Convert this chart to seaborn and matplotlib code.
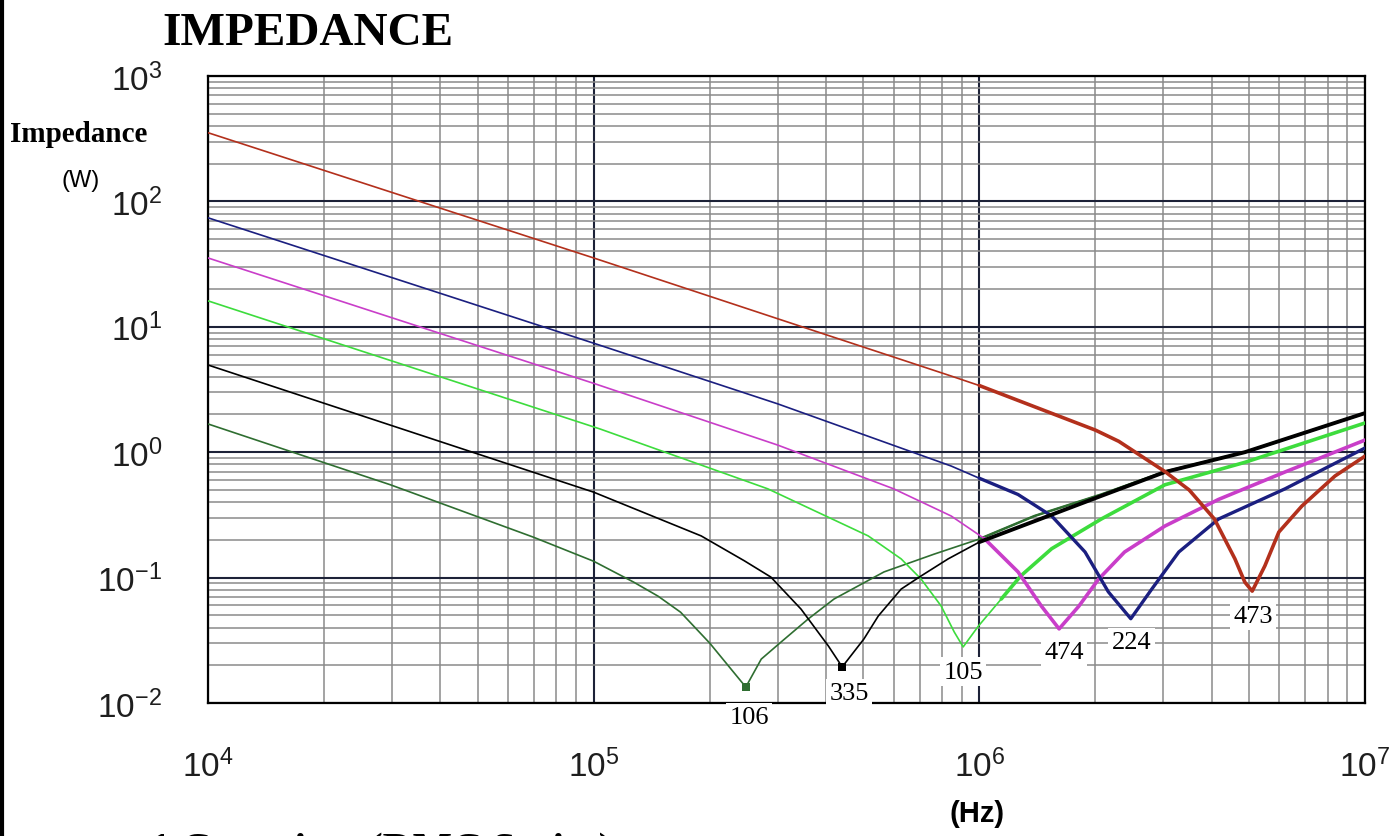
import numpy as np
import pandas as pd
import matplotlib
matplotlib.use("Agg")
import matplotlib.pyplot as plt
import seaborn as sns
from matplotlib.ticker import LogLocator, NullFormatter
from matplotlib.lines import Line2D

# ---------------- data ----------------
labels = ["106", "335", "105", "474", "224", "473"]

f_106 = [1e4, 2.97e4, 6.98e4, 1e5, 1.27e5, 1.47e5, 1.68e5, 2.0e5, 2.48e5, 2.72e5, 3.06e5,
         3.6e5, 4.2e5, 5.66e5, 7.64e5, 1e6, 1.39e6, 2.07e6, 3.03e6, 4.88e6, 1e7]
z_106 = [1.68, 0.55, 0.21, 0.135, 0.092, 0.071, 0.053, 0.030, 0.0134, 0.0224, 0.0306,
         0.0468, 0.0675, 0.111, 0.154, 0.203, 0.31, 0.46, 0.70, 1.0, 2.05]

f_335 = [1e4, 1e5, 1.9e5, 2.46e5, 2.88e5, 3.45e5, 4.06e5, 4.41e5, 5.02e5, 5.47e5, 6.27e5,
         7.06e5, 8.3e5, 1e6, 2.07e6, 3.03e6, 4.88e6, 1e7]
z_335 = [4.96, 0.48, 0.215, 0.136, 0.101, 0.056, 0.0285, 0.0194, 0.0324, 0.0494, 0.081,
         0.103, 0.141, 0.192, 0.448, 0.695, 1.0, 2.05]

f_105 = [1e4, 1.04e5, 2.83e5, 5.15e5, 6.27e5, 7.06e5, 7.96e5, 8.61e5, 9.08e5, 9.94e5,
         1.14e6, 1.28e6, 1.54e6, 2.07e6, 3.03e6, 4.88e6, 1e7]
z_105 = [16.1, 1.53, 0.51, 0.215, 0.141, 0.0975, 0.0594, 0.0368, 0.028, 0.041,
         0.0675, 0.103, 0.17, 0.293, 0.55, 0.83, 1.71]

f_474 = [1e4, 1e5, 3e5, 6e5, 8.45e5, 1.03e6, 1.26e6, 1.45e6, 1.61e6, 1.81e6, 2.04e6,
         2.38e6, 3.03e6, 4.17e6, 6.2e6, 1e7]
z_474 = [35.4, 3.54, 1.14, 0.51, 0.31, 0.205, 0.111, 0.059, 0.039, 0.059, 0.0975,
         0.16, 0.258, 0.42, 0.695, 1.25]

f_224 = [1e4, 1e5, 3e5, 8.45e5, 1e6, 1.26e6, 1.54e6, 1.88e6, 2.16e6, 2.47e6, 2.8e6,
         3.29e6, 4.17e6, 6.2e6, 1e7]
z_224 = [74.0, 7.4, 2.43, 0.776, 0.62, 0.46, 0.31, 0.16, 0.077, 0.047, 0.081,
         0.16, 0.293, 0.51, 1.08]

f_473 = [1e4, 1e5, 8.45e5, 1e6, 2e6, 2.3e6, 3.03e6, 3.5e6, 4.07e6, 4.6e6, 4.88e6, 5.1e6,
         5.5e6, 5.98e6, 6.86e6, 8.36e6, 1e7]
z_473 = [353, 35.4, 4.05, 3.40, 1.50, 1.22, 0.70, 0.50, 0.293, 0.141, 0.092, 0.078,
         0.124, 0.231, 0.372, 0.646, 0.93]

# label positions (freq, impedance)
lab_f = [2.53e5, 4.59e5, 9.08e5, 1.66e6, 2.48e6, 5.12e6]
lab_z = [0.0077, 0.0120, 0.0177, 0.0255, 0.0306, 0.0494]

y_ticks = [1e-2, 1e-1, 1e0, 1e1, 1e2, 1e3]
x_ticks = [1e4, 1e5, 1e6, 1e7]

# ---------------- styling ----------------
colors = {"106": "#2f6e31", "335": "#000000", "105": "#3ddc3d",
          "474": "#c93ec9", "224": "#1b1f80", "473": "#b3301c"}
thick_lw = {"106": 1.8, "335": 2.8, "105": 2.6, "474": 2.6, "224": 2.4, "473": 2.6}
min_marker = {"106": True, "335": True}

series = {"106": (f_106, z_106), "335": (f_335, z_335), "105": (f_105, z_105),
          "474": (f_474, z_474), "224": (f_224, z_224), "473": (f_473, z_473)}

frames = []
for name, (f, z) in series.items():
    frames.append(pd.DataFrame({"f": f, "z": z, "series": name}))
df = pd.concat(frames, ignore_index=True)

sns.set_style("white")
plt.rcParams['font.family'] = ['Liberation Sans', 'DejaVu Sans']
plt.rcParams['text.color'] = 'black'
plt.rcParams['axes.unicode_minus'] = False

fig = plt.figure(figsize=(13.96, 8.37), dpi=100)
ax = fig.add_axes([208 / 1396, 1 - 704 / 837, (1365 - 208) / 1396, (704 - 77) / 837])

draw_order = ["106", "105", "474", "224", "335", "473"]
for name in draw_order:
    d = df[df.series == name]
    sns.lineplot(data=d, x="f", y="z", color=colors[name], lw=1.2, sort=False,
                 estimator=None, ax=ax, legend=False, zorder=3)
    dt = d[d.f >= 1e6]
    sns.lineplot(data=dt, x="f", y="z", color=colors[name], lw=thick_lw[name], sort=False,
                 estimator=None, ax=ax, legend=False, zorder=3)
    if min_marker.get(name):
        dm = d.loc[[d.z.idxmin()]]
        sns.scatterplot(data=dm, x="f", y="z", color=colors[name], marker="s", s=30,
                        edgecolor="none", ax=ax, legend=False, zorder=4)

ax.set_xscale("log")
ax.set_yscale("log")
ax.set_xlim(x_ticks[0], x_ticks[-1])
ax.set_ylim(y_ticks[0], y_ticks[-1])
ax.set_xticks(x_ticks)
ax.set_yticks(y_ticks)
ax.xaxis.set_minor_locator(LogLocator(base=10, subs=np.arange(2, 10), numticks=20))
ax.yaxis.set_minor_locator(LogLocator(base=10, subs=np.arange(2, 10), numticks=20))
ax.xaxis.set_minor_formatter(NullFormatter())
ax.yaxis.set_minor_formatter(NullFormatter())
ax.set_xlabel("")
ax.set_ylabel("")

ax.set_axisbelow(True)
ax.grid(which="major", color="#1d2238", lw=1.5)
ax.grid(which="minor", color="#8a8a8a", lw=1.1)
for s in ax.spines.values():
    s.set_visible(True)
    s.set_color("black")
    s.set_linewidth(1.6)

ax.tick_params(which="major", direction="out", length=11, width=1.4, color="black",
               labelsize=24, labelcolor="#1e1e1e")
ax.tick_params(which="minor", direction="inout", length=10, width=1.2, color="black")
ax.tick_params(axis="y", which="major", pad=22)
ax.tick_params(axis="x", which="major", pad=22)

for name, fx, zy in zip(labels, lab_f, lab_z):
    ax.text(fx, zy, name, ha="center", va="center", family="Liberation Serif", size=19,
            color="black", clip_on=False, zorder=6,
            bbox=dict(facecolor="white", edgecolor="none", pad=2.5))

fig.text(162 / 1396, 1 - 45 / 837, "IMPEDANCE", family="Liberation Serif", weight="bold",
         size=34, ha="left", va="baseline", color="black")
fig.text(10 / 1396, 1 - 142 / 837, "Impedance", family="Liberation Serif", weight="bold",
         size=21, ha="left", va="baseline", color="black")
fig.text(81 / 1396, 1 - 181 / 837, "(W)", size=17, ha="center", va="center", color="black")
fig.text(977 / 1396, 1 - 814 / 837, "(Hz)", weight="bold", size=21, ha="center",
         va="center", color="black")
# caption below the chart; in the reference only the top of it shows at the bottom edge
fig.text(150 / 1396, 1 - 862 / 837, "1 Capacitor (DMC Series)", family="Liberation Serif",
         weight="bold", size=30, ha="left", va="baseline", color="black")

fig.add_artist(Line2D([0.0012, 0.0012], [0, 1], transform=fig.transFigure, color="black", lw=3))

fig.savefig("out.png", dpi=100, facecolor="white")
